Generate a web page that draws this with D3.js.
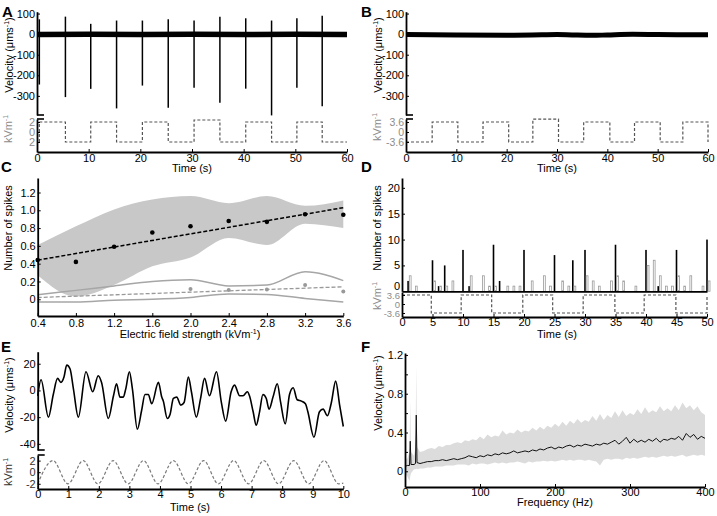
<!DOCTYPE html>
<html>
<head>
<meta charset="UTF-8">
<title>Swimming velocity and electric field</title>
<script src="https://d3js.org/d3.v7.min.js"></script>
<style>
  body { margin: 0; background: #fff; }
</style>
</head>
<body>
<div id="fig"></div>
<script>
// ---------- data ----------

// A: velocity trace, spikes at field reversals (60 s)
var spikeTimesA  = [0.45, 5.5, 10.4, 15.4, 20.4, 25.4, 30.4, 35.4, 40.4, 45.4, 50.3, 55.2];
var spikeTopA    = [72, 85, 50, 66, 66, 72, 66, 85, 77, 66, 77, 89];
var spikeBottomA = [-245, -306, -266, -361, -250, -358, -260, -334, -265, -395, -261, -350];
var baseTimesA   = [0, 10, 20, 30, 40, 50, 60];
var baseValuesA  = [-2, -1, -2, -1, -2, -1, -2];
var stimTimesA   = [0.45, 0.45, 5.5, 10.4, 15.4, 20.4, 25.4, 30.4, 35.4, 40.4, 45.4, 50.3, 55.2, 60];
var stimLevelsA  = [-2, 2, -2, 2, -2, 2, -2, 2.4, -2, 2, -2, 2, -2, -2];

// B: control trace, no spikes
var baseTimesB  = [0, 10, 20, 25, 30, 33, 37, 40, 45, 50, 55, 60];
var baseValuesB = [-2, -4, -5, -4, -2, -4, -6, -4, -1, -2, -3, -3];
var stimTimesB  = [0, 5.2, 10.3, 15.3, 20.4, 25.2, 30.3, 35.3, 40.5, 45.4, 50.5, 55.0, 60, 60];
var stimLevelsB = [-3.6, 3.6, -3.6, 3.6, -3.6, 4.6, -3.6, 3.6, -3.6, 3.6, -3.6, 3.6, 3.6, -3.6];

// C: spikes per reversal vs field strength
var fieldC      = [0.4, 0.8, 1.2, 1.6, 2.0, 2.4, 2.8, 3.2, 3.6];
var meanC       = [0.44, 0.42, 0.59, 0.75, 0.82, 0.88, 0.87, 0.955, 0.95];
var upperC      = [0.61, 0.82, 1.01, 1.12, 1.16, 1.08, 1.16, 1.05, 1.11];
var lowerC      = [0.27, 0.03, 0.16, 0.37, 0.47, 0.69, 0.61, 0.85, 0.80];
var ctrlUpperC  = [0.05, 0.10, 0.15, 0.20, 0.22, 0.15, 0.16, 0.31, 0.21];
var ctrlLowerC  = [-0.03, -0.03, -0.01, 0.0, 0.02, 0.06, 0.055, 0.01, -0.03];
var ctrlFieldC  = [2.0, 2.4, 2.8, 3.2, 3.6];
var ctrlMeanC   = [0.116, 0.105, 0.11, 0.16, 0.086];
var fitFieldC   = [0.4, 3.6];
var fitMeanC    = [0.44, 1.03];
var fitCtrlC    = [0.02, 0.14];

// D: spike counts per 1 s bin
var secondsD = d3.range(0, 51);
var blackD = [0,2,0,0,0,6,1,5,0,0,8,1,0,0,0,9,2,0,0,0,8,0,0,0,0,7,0,0,6,0,8,0,0,0,0,9,0,0,0,0,8,0,1,0,0,8,0,0,0,0,10];
var greyD  = [0,3,1,0,0,2,1,1,2,0,0,3,0,3,1,1,0,1,1,1,0,2,0,3,1,0,2,1,1,0,3,2,1,0,2,3,2,0,1,0,5,6,3,1,1,3,1,3,0,1,2];
var stimTimesD  = [0, 4.8, 9.7, 14.7, 19.8, 24.7, 29.7, 34.9, 39.7, 44.9, 50, 50];
var stimLevelsD = [3.6, -3.6, 3.6, -3.6, 3.6, -3.6, 3.6, -3.6, 3.6, -3.6, -3.6, 3.6];

// E: velocity under 1 Hz sinusoidal field
var timesE = [0,0.11,0.35,0.51,0.65,0.76,0.86,0.95,1.06,1.17,1.33,1.58,1.80,1.98,2.09,2.31,2.48,2.58,2.69,2.80,
  2.88,3.00,3.10,3.26,3.40,3.51,3.62,3.73,3.95,4.06,4.11,4.24,4.33,4.44,4.55,4.68,4.79,4.93,5.03,5.19,
  5.33,5.46,5.62,5.85,6.01,6.15,6.33,6.44,6.61,6.72,6.86,6.93,7.05,7.15,7.26,7.37,7.48,7.57,7.70,7.84,
  7.95,8.10,8.24,8.36,8.49,8.63,8.76,8.84,9.04,9.22,9.34,9.48,9.61,9.75,9.88,10.0];
var velE = [-4,8,-20,-3,9,6,10,19,16,1,-20,14,-1,11,6,-21,-4,5,-5,-5,
  1,14,1,-29,-15,-3,-3,-10,6,-5,-8,-21,-18,-6,-5,-11,-9,10,-1,-20,
  -6,9,-4,14,-9,-23,-1,4,-4,-4,-1,-4,-16,-26,-16,-3,-6,-14,-5,5,
  -9,-25,-3,2,-7,-8,-10,-16,-35,-16,-14,-19,-9,7,-11,-27];
var stimTimesE  = [0,0.5,0.99,1.49,1.97,2.47,2.96,3.46,3.94,4.44,4.93,5.43,5.91,6.41,6.9,7.4,7.88,8.38,8.87,9.37,9.85,10];
var stimLevelsE = [-2,2,-2,2,-2,2,-2,2,-2,2,-2,2,-2,2,-2,2,-2,2,-2,2,-2,-1.9];

// F: velocity spectrum, mean and spread
var freqF = [0,3,6,7,8,12,14,15,16,20,25,30,35,40,45,50,55,60,65,70,75,80,85,90,95,100,105,110,115,120,
  125,130,135,140,145,150,155,160,165,170,175,180,185,190,195,200,205,210,215,220,225,230,235,240,245,
  250,255,260,265,270,275,280,285,290,295,300,305,310,315,320,325,330,335,340,345,350,355,360,365,370,
  375,380,385,390,395,400];
var meanF = [0.05,0.06,0.06,0.31,0.07,0.07,0.08,0.58,0.09,0.08,
  0.09,0.10,0.10,0.11,0.11,0.12,0.11,0.12,0.13,0.12,
  0.13,0.14,0.16,0.15,0.14,0.16,0.15,0.17,0.16,0.18,
  0.17,0.19,0.18,0.19,0.21,0.19,0.20,0.21,0.20,0.22,
  0.21,0.23,0.22,0.24,0.25,0.23,0.25,0.24,0.26,0.27,
  0.25,0.27,0.26,0.28,0.27,0.26,0.28,0.27,0.29,0.28,
  0.30,0.32,0.28,0.31,0.35,0.29,0.33,0.30,0.32,0.30,
  0.33,0.31,0.34,0.30,0.33,0.32,0.34,0.33,0.36,0.32,
  0.39,0.35,0.38,0.33,0.36,0.34];
var upperF = [0.12,0.13,0.20,0.72,0.20,0.16,0.25,1.10,0.25,0.20,
  0.21,0.23,0.24,0.23,0.26,0.25,0.27,0.27,0.29,0.30,
  0.29,0.32,0.31,0.33,0.32,0.36,0.33,0.38,0.35,0.37,
  0.36,0.42,0.38,0.40,0.39,0.43,0.40,0.42,0.41,0.45,
  0.42,0.46,0.43,0.47,0.45,0.49,0.46,0.51,0.47,0.52,
  0.49,0.54,0.50,0.53,0.51,0.57,0.52,0.59,0.53,0.58,
  0.55,0.62,0.56,0.63,0.57,0.60,0.58,0.64,0.59,0.66,
  0.60,0.63,0.61,0.67,0.62,0.65,0.62,0.68,0.63,0.71,
  0.65,0.68,0.63,0.67,0.61,0.58];
var lowerF = [-0.02,-0.05,-0.10,-0.05,-0.02,0.02,0.02,0.03,0.02,0.03,
  0.03,0.04,0.04,0.05,0.05,0.05,0.06,0.06,0.06,0.07,
  0.07,0.07,0.06,0.08,0.07,0.08,0.08,0.07,0.08,0.09,
  0.08,0.09,0.08,0.09,0.09,0.10,0.09,0.08,0.10,0.09,
  0.10,0.10,0.11,0.10,0.11,0.10,0.11,0.12,0.11,0.12,
  0.11,0.12,0.12,0.11,0.12,0.11,0.10,0.06,0.12,0.13,
  0.12,0.13,0.13,0.12,0.14,0.13,0.14,0.13,0.14,0.15,
  0.14,0.15,0.14,0.15,0.16,0.15,0.16,0.15,0.16,0.17,
  0.15,0.16,0.17,0.16,0.17,0.16];

// ---------- drawing ----------
var FONT = "'Liberation Sans', Arial, Helvetica, sans-serif";
var STIM_GREY = "#8c8c8c";

var svg = d3.select("#fig").append("svg")
    .attr("width", 717)
    .attr("height", 516)
    .style("font-family", FONT);

function styleAxis(g, color, size) {
  g.attr("font-family", null).attr("font-size", null);
  g.select(".domain").attr("stroke", "#000").attr("stroke-width", 1.8);
  g.selectAll(".tick line").attr("stroke", "#000").attr("stroke-width", 1);
  g.selectAll(".tick text").attr("fill", color || "#000")
    .style("font-family", FONT).style("font-size", (size || 11) + "px");
}

function leftAxis(scale, x, ticks, fmt, color, size) {
  var g = svg.append("g").attr("transform", "translate(" + x + ",0)")
    .call(d3.axisLeft(scale).tickValues(ticks).tickFormat(fmt)
      .tickSize(-3).tickSizeOuter(0).tickPadding(2));
  styleAxis(g, color, size);
  return g;
}

function bottomAxis(scale, y, ticks, fmt, pad) {
  var g = svg.append("g").attr("transform", "translate(0," + y + ")")
    .call(d3.axisBottom(scale).tickValues(ticks).tickFormat(fmt)
      .tickSize(-3).tickSizeOuter(0).tickPadding(pad));
  styleAxis(g);
  return g;
}

// text with a superscript part, e.g. kVm^-1
function label(x, y, rotate, before, sup, after, color) {
  var t = svg.append("text")
    .attr("transform", "translate(" + x + "," + y + ")" + (rotate ? " rotate(-90)" : ""))
    .attr("text-anchor", "middle")
    .attr("fill", color || "#000")
    .style("font-size", "11px");
  t.append("tspan").text(before);
  if (sup) {
    t.append("tspan").attr("dy", -4).style("font-size", "7px").text(sup);
    t.append("tspan").attr("dy", 4).text(after);
  }
  return t;
}

function panelLetter(x, y, s) {
  svg.append("text").attr("x", x).attr("y", y).text(s)
    .style("font-size", "15px").style("font-weight", "bold");
}

function breakMarks(x, y1, y2) {
  [y1, y2].forEach(function(y) {
    svg.append("line").attr("x1", x).attr("x2", x + 7).attr("y1", y).attr("y2", y)
      .attr("stroke", "#000").attr("stroke-width", 1.6);
  });
}

function stepPath(times, levels, xs, ys, color) {
  svg.append("path")
    .datum(d3.zip(times, levels))
    .attr("d", d3.line().curve(d3.curveStepAfter)
      .x(function(d) { return xs(d[0]); })
      .y(function(d) { return ys(d[1]); }))
    .attr("fill", "none")
    .attr("stroke", color || "#555")
    .attr("stroke-width", 1.2)
    .attr("stroke-dasharray", "3,2");
}

var tick60 = [0, 10, 20, 30, 40, 50, 60];
var plain = function(d) { return String(d); };

// ----- Panel A -----
var xA = d3.scaleLinear().domain([0, 60]).range([37, 347]);
var vA = d3.scaleLinear().domain([-393, 109]).range([115, 11.7]);
var sA = d3.scaleLinear().domain([-4, 2.6]).range([152, 119]);

svg.append("path")
  .datum(d3.zip(baseTimesA, baseValuesA))
  .attr("d", d3.line().x(function(d) { return xA(d[0]); }).y(function(d) { return vA(d[1]); }))
  .attr("fill", "none").attr("stroke", "#000").attr("stroke-width", 5.5);

svg.selectAll(".spikeA")
  .data(spikeTimesA)
  .enter().append("line")
  .attr("class", "spikeA")
  .attr("x1", function(d) { return xA(d); })
  .attr("x2", function(d) { return xA(d); })
  .attr("y1", function(d, i) { return vA(spikeTopA[i]); })
  .attr("y2", function(d, i) { return vA(spikeBottomA[i]); })
  .attr("stroke", "#000").attr("stroke-width", 1.5);

stepPath(stimTimesA, stimLevelsA, xA, sA);

leftAxis(vA, 37, [-300, -200, -100, 0, 100], plain);
leftAxis(sA, 37, [-2, 0, 2], function(d) { return String(Math.abs(d)); }, STIM_GREY);
breakMarks(37, 115, 119);
bottomAxis(xA, 152, tick60, plain, 2);
label(192, 172, false, "Time (s)");
label(13, 55, true, "Velocity (\u03bcms", "-1", ")");
label(12, 129, true, "kVm", "-1", "", STIM_GREY);
panelLetter(2, 17, "A");

// ----- Panel B -----
var xB = d3.scaleLinear().domain([0, 60]).range([406, 708]);
var vB = d3.scaleLinear().domain([-393, 109]).range([115, 11.7]);
var sB = d3.scaleLinear().domain([-7.2, 4.68]).range([152, 119]);

svg.append("path")
  .datum(d3.zip(baseTimesB, baseValuesB))
  .attr("d", d3.line().curve(d3.curveMonotoneX)
    .x(function(d) { return xB(d[0]); }).y(function(d) { return vB(d[1]); }))
  .attr("fill", "none").attr("stroke", "#000").attr("stroke-width", 5);

stepPath(stimTimesB, stimLevelsB, xB, sB);

leftAxis(vB, 406, [-300, -200, -100, 0, 100], plain);
leftAxis(sB, 406, [-3.6, 0, 3.6], plain, STIM_GREY, 10.5);
breakMarks(406, 115, 119);
bottomAxis(xB, 152, tick60, plain, 2);
label(557, 172, false, "Time (s)");
label(382, 55, true, "Velocity (\u03bcms", "-1", ")");
label(381, 127, true, "kVm", "-1", "", STIM_GREY);
panelLetter(361, 17, "B");

// ----- Panel C -----
var xC = d3.scaleLinear().domain([0.4, 3.6]).range([37.7, 343.3]);
var yC = d3.scaleLinear().domain([-0.188, 1.363]).range([316, 178]);

svg.append("path")
  .datum(d3.range(fieldC.length))
  .attr("d", d3.area().curve(d3.curveMonotoneX)
    .x(function(i) { return xC(fieldC[i]); })
    .y0(function(i) { return yC(lowerC[i]); })
    .y1(function(i) { return yC(upperC[i]); }))
  .attr("fill", "#c8c8c8");

[ctrlUpperC, ctrlLowerC].forEach(function(arr) {
  svg.append("path")
    .datum(d3.zip(fieldC, arr))
    .attr("d", d3.line().curve(d3.curveMonotoneX)
      .x(function(d) { return xC(d[0]); }).y(function(d) { return yC(d[1]); }))
    .attr("fill", "none").attr("stroke", "#a6a6a6").attr("stroke-width", 1.5);
});

svg.append("path")
  .datum(d3.zip(fitFieldC, fitCtrlC))
  .attr("d", d3.line().x(function(d) { return xC(d[0]); }).y(function(d) { return yC(d[1]); }))
  .attr("fill", "none").attr("stroke", "#999").attr("stroke-width", 1.3)
  .attr("stroke-dasharray", "4,2");

svg.selectAll(".ctrlDot")
  .data(d3.zip(ctrlFieldC, ctrlMeanC))
  .enter().append("circle")
  .attr("class", "ctrlDot")
  .attr("cx", function(d) { return xC(d[0]); })
  .attr("cy", function(d) { return yC(d[1]); })
  .attr("r", 2).attr("fill", "#999");

svg.append("path")
  .datum(d3.zip(fitFieldC, fitMeanC))
  .attr("d", d3.line().x(function(d) { return xC(d[0]); }).y(function(d) { return yC(d[1]); }))
  .attr("fill", "none").attr("stroke", "#000").attr("stroke-width", 1.5)
  .attr("stroke-dasharray", "4,2");

svg.selectAll(".meanDot")
  .data(d3.zip(fieldC, meanC))
  .enter().append("circle")
  .attr("class", "meanDot")
  .attr("cx", function(d) { return xC(d[0]); })
  .attr("cy", function(d) { return yC(d[1]); })
  .attr("r", 2.3).attr("fill", "#000");

leftAxis(yC, 37.7, [0, 0.2, 0.4, 0.6, 0.8, 1.0, 1.2],
  function(d) { return d === 0 ? "0" : d3.format(".1f")(d); });
bottomAxis(xC, 316, fieldC, d3.format(".1f"), 3);
label(190, 338, false, "Electric field strength (kVm", "-1", ")");
label(12, 228, true, "Number of spikes");
panelLetter(1, 172, "C");

// ----- Panel D -----
var xD = d3.scaleLinear().domain([0, 50]).range([402, 707]);
var yD = d3.scaleLinear().domain([0, 21.9]).range([291.3, 178]);
var sD = d3.scaleLinear().domain([-5.2, 4.8]).range([317, 292]);

svg.selectAll(".barBlack")
  .data(secondsD.filter(function(s) { return blackD[s] > 0; }))
  .enter().append("rect")
  .attr("class", "barBlack")
  .attr("x", function(s) { return xD(s) - 0.8; })
  .attr("width", 1.6)
  .attr("y", function(s) { return yD(blackD[s]); })
  .attr("height", function(s) { return yD(0) - yD(blackD[s]); })
  .attr("fill", "#000");

svg.selectAll(".barGrey")
  .data(secondsD.filter(function(s) { return greyD[s] > 0; }))
  .enter().append("rect")
  .attr("class", "barGrey")
  .attr("x", function(s) { return xD(s) + 1.2; })
  .attr("width", 1.8)
  .attr("y", function(s) { return yD(greyD[s]); })
  .attr("height", function(s) { return yD(0) - yD(greyD[s]); })
  .attr("fill", "#fff").attr("stroke", "#9a9a9a").attr("stroke-width", 0.8);

stepPath(stimTimesD, stimLevelsD, xD, sD);

leftAxis(yD, 402, [5, 10, 15, 20], plain);
leftAxis(sD, 402, [-3.6, 0, 3.6], plain, STIM_GREY, 9.5);
bottomAxis(xD, 291.3, [], plain, 2);
bottomAxis(xD, 317, [0, 5, 10, 15, 20, 25, 30, 35, 40, 45, 50], plain, 1);
// zero label of the count axis sits just above the field trace
svg.append("text").attr("x", 400).attr("y", yD(0) - 1).attr("text-anchor", "end")
  .style("font-size", "11px").text("0");
label(557, 338, false, "Time (s)");
label(381, 228, true, "Number of spikes");
label(381, 296, true, "kVm", "-1", "", STIM_GREY);
panelLetter(361, 172, "D");

// ----- Panel E -----
var xE = d3.scaleLinear().domain([0, 10]).range([37.7, 343.3]);
var vE = d3.scaleLinear().domain([-44.6, 29]).range([450, 351.7]);
var sE = d3.scaleLinear().domain([-2.9, 2.97]).range([489, 455]);

svg.append("path")
  .datum(d3.zip(timesE, velE))
  .attr("d", d3.line().curve(d3.curveMonotoneX)
    .x(function(d) { return xE(d[0]); }).y(function(d) { return vE(d[1]); }))
  .attr("fill", "none").attr("stroke", "#000").attr("stroke-width", 1.6);

svg.append("path")
  .datum(d3.zip(stimTimesE, stimLevelsE))
  .attr("d", d3.line().curve(d3.curveMonotoneX)
    .x(function(d) { return xE(d[0]); }).y(function(d) { return sE(d[1]); }))
  .attr("fill", "none").attr("stroke", "#7a7a7a").attr("stroke-width", 1.2)
  .attr("stroke-dasharray", "3,2");

leftAxis(vE, 37.7, [-40, -20, 0, 20], plain);
leftAxis(sE, 37.7, [-2, 0, 2], plain, "#333");
breakMarks(37.7, 450, 455);
bottomAxis(xE, 489, d3.range(0, 11), plain, 1);
label(190, 511, false, "Time (s)");
label(13, 395, true, "Velocity (\u03bcms", "-1", ")");
label(12, 472, true, "kVm", "-1", "", "#333");
panelLetter(1, 352, "E");

// ----- Panel F -----
var xF = d3.scaleLinear().domain([0, 400]).range([405, 705]);
var yF = d3.scaleLinear().domain([-0.162, 1.22]).range([487, 353]);

svg.append("path")
  .datum(d3.range(freqF.length))
  .attr("d", d3.area()
    .x(function(i) { return xF(freqF[i]); })
    .y0(function(i) { return yF(lowerF[i]); })
    .y1(function(i) { return yF(upperF[i]); }))
  .attr("fill", "#dcdcdc");

svg.append("path")
  .datum(d3.zip(freqF, meanF))
  .attr("d", d3.line().x(function(d) { return xF(d[0]); }).y(function(d) { return yF(d[1]); }))
  .attr("fill", "none").attr("stroke", "#111").attr("stroke-width", 1);

leftAxis(yF, 405, [0, 0.2, 0.4, 0.6, 0.8, 1.0, 1.2],
  function(d) { return [0, 0.4, 0.8, 1.2].indexOf(d) < 0 ? "" : (d === 0 ? "0" : d3.format(".1f")(d)); });
bottomAxis(xF, 487, [0, 100, 200, 300, 400], plain, 1);
label(555, 506, false, "Frequency (Hz)");
label(382, 393, true, "Velocity (\u03bcms", "-1", ")");
panelLetter(361, 352, "F");
</script>
</body>
</html>
